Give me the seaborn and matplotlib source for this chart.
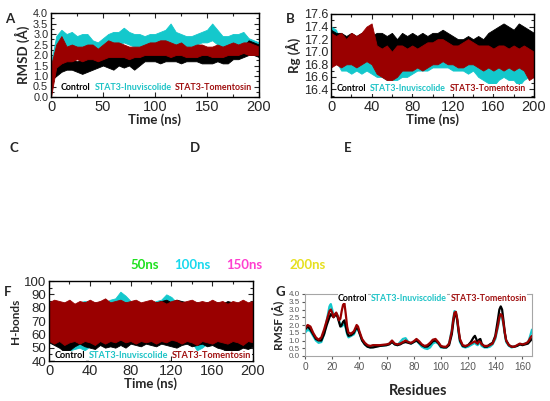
import numpy as np
import pandas as pd
import matplotlib
matplotlib.use("Agg")
import matplotlib.pyplot as plt
from matplotlib.ticker import MultipleLocator, FormatStrFormatter
import seaborn as sns

sns.set_style("ticks")
plt.rcParams['font.family'] = ['Liberation Sans', 'DejaVu Sans']

# ---------------- data ----------------
time_ns = list(range(0, 201, 5))

# Panel A: RMSD envelopes (low / high)
rmsd_ctrl_lo = [0.8,1.0,1.2,1.3,1.3,1.2,1.1,1.2,1.3,1.4,1.5,1.4,1.3,1.5,1.4,1.5,1.3,1.5,1.7,1.7,1.7,1.6,1.7,1.7,1.7,1.6,1.7,1.7,1.7,1.6,1.6,1.6,1.7,1.6,1.6,1.8,1.8,1.9,2.0,2.0,1.9]
rmsd_ctrl_hi = [1.4,1.7,1.8,1.9,1.8,1.7,1.8,1.9,2.0,1.9,2.0,1.9,2.1,2.0,1.9,2.0,1.9,2.1,2.1,2.2,2.1,2.1,2.2,2.2,2.1,2.1,2.2,2.2,2.2,2.1,2.0,2.1,2.2,2.1,2.1,2.3,2.3,2.4,2.7,2.6,2.5]
rmsd_inuv_lo = [0.6,1.9,2.3,2.2,2.3,2.3,2.2,2.3,2.1,2.2,2.3,2.4,2.5,2.5,2.6,2.5,2.4,2.4,2.4,2.4,2.5,2.5,2.6,2.6,2.5,2.5,2.4,2.4,2.5,2.6,2.6,2.7,2.5,2.4,2.4,2.5,2.5,2.6,2.4,2.3,2.2]
rmsd_inuv_hi = [1.6,2.9,3.2,3.0,3.1,2.9,3.0,3.0,2.7,2.6,2.8,3.0,3.1,3.1,3.3,3.1,3.0,3.0,2.9,3.0,3.0,3.1,3.2,3.5,3.1,3.0,2.9,2.9,3.0,3.1,3.2,3.5,3.2,2.9,2.9,3.0,3.0,3.1,2.8,2.7,2.6]
rmsd_tome_lo = [0.0,1.4,1.6,1.7,1.7,1.8,1.7,1.8,1.8,1.7,1.8,1.9,1.9,1.9,1.9,1.8,1.9,1.9,2.0,2.0,2.0,2.0,2.0,1.9,2.0,2.0,1.9,1.9,1.9,2.0,2.0,1.9,1.9,1.9,2.0,2.0,2.0,2.1,2.0,2.0,2.0]
rmsd_tome_hi = [1.5,2.5,2.9,2.4,2.5,2.4,2.4,2.5,2.5,2.3,2.5,2.7,2.6,2.6,2.5,2.4,2.4,2.4,2.5,2.6,2.6,2.7,2.7,2.6,2.5,2.6,2.4,2.4,2.5,2.5,2.4,2.4,2.5,2.4,2.5,2.6,2.5,2.6,2.6,2.5,2.4]

# Panel B: Rg envelopes
rg_ctrl_lo = [16.85,16.85,16.9,16.85,16.9,16.9,16.85,16.9,16.95,16.95,17.0,16.95,17.0,16.95,17.0,16.95,17.0,16.95,16.95,17.0,17.0,16.95,17.0,17.0,16.95,16.95,16.9,16.95,16.95,16.95,16.9,16.95,17.0,17.05,17.05,17.05,17.05,17.05,17.0,17.0,16.95]
rg_ctrl_hi = [17.35,17.3,17.3,17.25,17.3,17.25,17.3,17.3,17.25,17.3,17.3,17.25,17.3,17.2,17.3,17.25,17.3,17.25,17.3,17.25,17.3,17.3,17.35,17.3,17.25,17.2,17.2,17.25,17.2,17.25,17.2,17.3,17.35,17.4,17.45,17.4,17.35,17.45,17.4,17.35,17.3]
rg_inuv_lo = [16.8,16.85,16.7,16.7,16.65,16.7,16.65,16.7,16.65,16.6,16.6,16.55,16.55,16.55,16.6,16.6,16.65,16.7,16.7,16.7,16.75,16.75,16.75,16.75,16.7,16.7,16.7,16.65,16.7,16.6,16.55,16.5,16.45,16.55,16.6,16.55,16.55,16.45,16.55,16.6,16.65]
rg_inuv_hi = [17.4,17.35,17.1,17.0,17.0,17.0,16.95,17.0,17.1,17.15,17.0,16.9,16.9,16.9,16.95,16.95,17.0,17.0,17.0,17.0,17.05,17.05,17.0,17.0,17.0,16.95,16.95,16.95,16.95,16.9,16.85,16.85,16.8,16.85,16.85,16.85,16.8,16.8,16.85,17.05,17.0]
rg_tome_lo = [16.75,16.8,16.75,16.8,16.8,16.75,16.8,16.85,16.8,16.65,16.6,16.55,16.55,16.6,16.7,16.7,16.7,16.75,16.7,16.75,16.8,16.8,16.85,16.8,16.8,16.75,16.75,16.8,16.8,16.75,16.7,16.75,16.7,16.75,16.7,16.75,16.7,16.75,16.7,16.55,16.6]
rg_tome_hi = [17.3,17.25,17.3,17.2,17.3,17.25,17.3,17.4,17.45,17.1,17.05,17.1,17.0,17.1,17.1,17.05,17.1,17.05,17.1,17.15,17.15,17.2,17.2,17.15,17.1,17.1,17.15,17.2,17.15,17.1,17.1,17.1,17.05,17.1,17.1,17.05,17.1,17.05,17.1,17.05,17.0]

# Panel F: H-bond envelopes
hb_ctrl_lo = [54,52,50,47,48,51,53,51,50,49,52,50,51,50,52,50,53,52,51,53,52,51,53,52,51,50,52,53,51,52,53,51,52,50,49,47,46,48,50,49,51]
hb_ctrl_hi = [83,82,83,82,83,82,83,84,83,84,83,84,83,84,83,84,83,84,83,84,83,84,85,86,84,86,85,84,83,84,83,84,83,84,83,85,84,83,84,83,82]
hb_inuv_lo = [56,54,52,50,48,49,50,48,51,53,52,54,55,54,56,55,55,54,55,54,55,54,56,57,56,55,54,53,54,48,50,53,54,53,54,52,53,54,53,52,55]
hb_inuv_hi = [82,83,82,84,83,82,84,85,84,83,85,84,86,87,92,89,85,84,83,84,83,85,86,90,88,84,83,84,83,84,83,84,83,84,83,84,83,84,82,83,82]
hb_tome_lo = [55,53,55,52,54,55,53,55,54,52,55,53,55,54,56,54,55,53,55,54,55,53,55,54,56,55,53,55,54,52,55,54,53,55,54,53,55,54,52,55,54]
hb_tome_hi = [84,86,85,84,86,83,85,84,86,84,85,87,84,85,86,84,85,86,84,85,86,84,85,83,85,86,84,85,86,84,85,84,86,84,85,83,85,84,86,84,85]

# Panel G: RMSF per residue
residues = [0,2,4,6,8,10,12,14,16,18,19,20,21,22,23,24,25,26,27,28,29,30,31,32,34,36,37,38,39,40,42,44,46,48,50,55,60,62,64,66,68,70,72,74,76,78,80,82,84,86,88,90,92,94,96,98,100,102,104,106,108,109,110,111,112,113,114,116,118,120,122,124,125,126,127,128,129,130,132,134,136,138,140,142,143,144,145,146,147,148,150,152,154,156,158,160,162,164,165,166,167]
rmsf_tome = [1.8,2.0,1.9,1.5,1.2,1.05,1.2,1.7,2.3,2.9,3.0,2.8,2.5,2.7,2.8,2.6,2.3,2.4,2.9,3.3,3.4,2.7,1.9,1.5,1.45,1.6,1.8,2.0,1.9,1.6,1.1,0.85,0.7,0.65,0.7,0.7,0.75,0.8,1.0,0.8,0.75,0.8,0.9,1.0,0.9,0.85,0.95,1.1,0.95,0.75,0.65,0.7,0.85,1.05,1.1,0.9,0.65,0.6,0.6,0.8,1.6,2.3,2.8,2.85,2.4,1.7,1.1,0.7,0.65,0.7,0.8,0.9,0.95,0.85,0.8,0.95,0.9,0.75,0.65,0.65,0.7,0.8,1.2,2.0,2.5,2.7,2.6,2.1,1.5,1.0,0.7,0.6,0.6,0.7,0.8,0.75,0.8,0.9,1.05,1.2,1.3]
rmsf_ctrl = [1.7,1.9,1.7,1.4,1.1,1.0,1.0,1.4,2.0,2.5,2.7,2.6,2.5,2.6,2.7,2.5,2.2,1.9,2.0,2.2,2.3,1.9,1.5,1.3,1.35,1.5,1.7,1.8,1.75,1.5,1.0,0.75,0.6,0.55,0.55,0.65,0.7,0.75,0.9,0.75,0.7,0.75,0.85,0.9,0.85,0.8,0.9,1.0,0.85,0.7,0.6,0.6,0.75,0.95,1.0,0.85,0.6,0.55,0.55,0.7,1.4,2.1,2.7,2.75,2.3,1.6,1.0,0.65,0.6,0.7,0.9,1.2,1.3,1.1,0.8,1.05,1.1,0.8,0.6,0.6,0.75,0.85,1.3,2.4,3.0,3.2,3.0,2.3,1.5,1.0,0.7,0.6,0.6,0.65,0.75,0.7,0.75,0.8,0.9,1.0,1.1]
rmsf_inuv = [1.5,1.7,1.6,1.3,1.0,0.85,0.9,1.4,2.3,3.2,3.35,3.0,2.6,2.7,2.75,2.6,2.3,2.0,1.9,2.0,2.1,1.8,1.4,1.2,1.3,1.4,1.6,1.75,1.7,1.5,1.0,0.75,0.6,0.55,0.6,0.65,0.7,0.8,0.95,0.75,0.7,0.9,1.1,1.15,0.9,0.8,0.9,1.0,0.8,0.6,0.5,0.45,0.55,0.8,0.9,0.8,0.55,0.55,0.55,0.8,1.7,2.4,2.9,2.8,2.3,1.5,0.9,0.6,0.55,0.6,0.7,0.8,0.85,0.75,0.7,0.85,0.8,0.65,0.55,0.55,0.6,0.75,1.1,1.9,2.4,2.6,2.5,2.0,1.4,0.9,0.65,0.55,0.6,0.65,0.75,0.75,0.8,0.85,1.1,1.4,1.7]

series_names = ["Control", "STAT3-Inuviscolide", "STAT3-Tomentosin"]
snapshot_labels = ["50ns", "100ns", "150ns", "200ns"]

# ---------------- style ----------------
C_CTRL = "#000000"
C_INUV = "#14c8cc"
C_TOME = "#9a0000"
TXT_INUV = "#1ec3c6"
TXT_TOME = "#a01010"
SNAP_COLORS = ["#1fe01f", "#19d9ee", "#ff3fcf", "#e6e020"]
CAL = ['Lato', 'DejaVu Sans']

W, H = 550, 401
fig = plt.figure(figsize=(5.5, 4.01), dpi=100)
renderer = fig.canvas.get_renderer()

def add_ax(x0, y0, x1, y1):
    return fig.add_axes([x0 / W, 1 - y1 / H, (x1 - x0) / W, (y1 - y0) / H])

def band(ax, t, lo, hi, color):
    df = pd.DataFrame({"t": list(t) + list(t), "v": list(lo) + list(hi)})
    sns.lineplot(data=df, x="t", y="v", ax=ax, color=color, lw=0.0,
                 errorbar=("pi", 100), err_kws={"alpha": 1.0, "linewidth": 0.6, "edgecolor": color})

def style_box(ax, xmaj, xmin, ymaj, ymin, xfs=10.5, yfs=9.5):
    for s in ax.spines.values():
        s.set_visible(True); s.set_color('black'); s.set_linewidth(1.0)
    ax.xaxis.set_major_locator(MultipleLocator(xmaj))
    ax.xaxis.set_minor_locator(MultipleLocator(xmin))
    ax.yaxis.set_major_locator(MultipleLocator(ymaj))
    ax.yaxis.set_minor_locator(MultipleLocator(ymin))
    ax.tick_params(which='both', direction='in', top=True, right=True, width=0.8, pad=2)
    ax.tick_params(axis='x', labelsize=xfs)
    ax.tick_params(axis='y', labelsize=yfs)
    ax.tick_params(which='major', length=3.5)
    ax.tick_params(which='minor', length=2)
    ax.set_xlabel(""); ax.set_ylabel("")

ax_x0 = {}

def legend_text(ax, x_start, x_end, y_frac):
    cols = [C_CTRL, TXT_INUV, TXT_TOME]
    ax_w = ax.get_window_extent(renderer).width
    probe = [ax.text(0, 0, n, fontsize=7, fontweight='bold', family=CAL) for n in series_names]
    widths = [p.get_window_extent(renderer).width for p in probe]
    for p in probe:
        p.remove()
    gap = 3.0
    fs = 7 * (x_end - x_start - 2 * gap) / sum(widths)
    x = x_start
    for name, c, w in zip(series_names, cols, widths):
        ax.text((x - ax_x0[ax]) / ax_w, y_frac, name,
                transform=ax.transAxes, color=c, fontsize=fs, fontweight='bold', family=CAL,
                va='center', ha='left', zorder=10,
                bbox=dict(facecolor='white', edgecolor='none', pad=0.3))
        x += w * fs / 7 + gap

# ---------------- Panel A ----------------
axA = add_ax(51, 13, 259, 97); ax_x0[axA] = 51
band(axA, time_ns, rmsd_inuv_lo, rmsd_inuv_hi, C_INUV)
band(axA, time_ns, rmsd_ctrl_lo, rmsd_ctrl_hi, C_CTRL)
band(axA, time_ns, rmsd_tome_lo, rmsd_tome_hi, C_TOME)
axA.set_xlim(0, 200); axA.set_ylim(0, 4.0)
style_box(axA, 50, 25, 0.5, 0.25, yfs=7.8)
axA.yaxis.set_major_formatter(FormatStrFormatter('%.1f'))
axA.set_xlabel("Time (ns)", fontsize=9.5, fontweight='bold', family=CAL, labelpad=0)
axA.set_ylabel("RMSD (Å)", fontsize=9.5, fontweight='bold', family=CAL, labelpad=2)
legend_text(axA, 61, 253, 0.45 / 4.0)

# ---------------- Panel B ----------------
axB = add_ax(331, 14, 534, 97); ax_x0[axB] = 331
band(axB, time_ns, rg_inuv_lo, rg_inuv_hi, C_INUV)
band(axB, time_ns, rg_ctrl_lo, rg_ctrl_hi, C_CTRL)
band(axB, time_ns, rg_tome_lo, rg_tome_hi, C_TOME)
axB.set_xlim(0, 200); axB.set_ylim(16.28, 17.6)
style_box(axB, 40, 20, 0.2, 0.1, yfs=9.0)
axB.yaxis.set_major_formatter(FormatStrFormatter('%.1f'))
axB.set_xlabel("Time (ns)", fontsize=9.5, fontweight='bold', family=CAL, labelpad=0)
axB.set_ylabel("Rg (Å)", fontsize=9.5, fontweight='bold', family=CAL, labelpad=2)
legend_text(axB, 337, 527, (16.41 - 16.28) / (17.6 - 16.28))

# ---------------- Panel F ----------------
axF = add_ax(49, 281, 253, 361); ax_x0[axF] = 49
band(axF, time_ns, hb_inuv_lo, hb_inuv_hi, C_INUV)
band(axF, time_ns, hb_ctrl_lo, hb_ctrl_hi, C_CTRL)
band(axF, time_ns, hb_tome_lo, hb_tome_hi, C_TOME)
axF.set_xlim(0, 200); axF.set_ylim(40, 100)
style_box(axF, 40, 20, 10, 5, yfs=9.5)
axF.set_xlabel("Time (ns)", fontsize=9.5, fontweight='bold', family=CAL, labelpad=0)
axF.set_ylabel("H-bonds", fontsize=8.5, fontweight='bold', family=CAL, labelpad=2)
legend_text(axF, 55, 252, (44 - 40) / 60)

# ---------------- Panel G ----------------
axG = add_ax(305, 294, 532, 356); ax_x0[axG] = 305
dfG = pd.DataFrame({"Residue": residues * 3,
                    "RMSF": rmsf_inuv + rmsf_ctrl + rmsf_tome,
                    "System": [series_names[1]] * len(residues) + [series_names[0]] * len(residues) + [series_names[2]] * len(residues)})
sns.lineplot(data=dfG, x="Residue", y="RMSF", hue="System",
             hue_order=[series_names[1], series_names[0], series_names[2]],
             palette=[C_INUV, C_CTRL, C_TOME], lw=1.6, ax=axG, legend=False)
axG.set_xlim(0, 167); axG.set_ylim(0, 4.0)
for s in axG.spines.values():
    s.set_visible(True); s.set_color('#a6a6a6'); s.set_linewidth(0.8)
axG.xaxis.set_major_locator(MultipleLocator(20))
axG.yaxis.set_major_locator(MultipleLocator(0.5))
axG.yaxis.set_major_formatter(FormatStrFormatter('%.1f'))
axG.tick_params(axis='x', labelsize=7.3, colors='#595959', length=2.5, direction='out', pad=1.5)
axG.tick_params(axis='y', labelsize=5.8, colors='#595959', length=2.5, direction='out', pad=1.5)
axG.set_xlabel("Residues", fontsize=10.5, fontweight='bold', family=CAL, labelpad=9)
axG.set_ylabel("RMSF (Å)", fontsize=8.5, fontweight='bold', family=CAL, labelpad=2)
legend_text(axG, 338, 527, 0.93)

# ---------------- Panels C, D, E (structure images not reproducible) ----------------
for lab, x in zip(["C", "D", "E"], [14, 195, 348]):
    fig.text(x / W, 1 - 148 / H, lab, fontsize=9.5, fontweight='bold', family=CAL, ha='center', va='center')

for lab, x, y in [("A", 10, 19), ("B", 290, 19), ("F", 8, 292), ("G", 280, 292)]:
    fig.text(x / W, 1 - y / H, lab, fontsize=9.5, fontweight='bold', family=CAL, ha='center', va='center')

# snapshot colour key
for lab, x, c in zip(snapshot_labels, [145, 192, 244, 308], SNAP_COLORS):
    fig.text(x / W, 1 - 265 / H, lab, fontsize=9.5, fontweight='bold', family=CAL, color=c, ha='center', va='center')

fig.savefig("out.png", dpi=100)
